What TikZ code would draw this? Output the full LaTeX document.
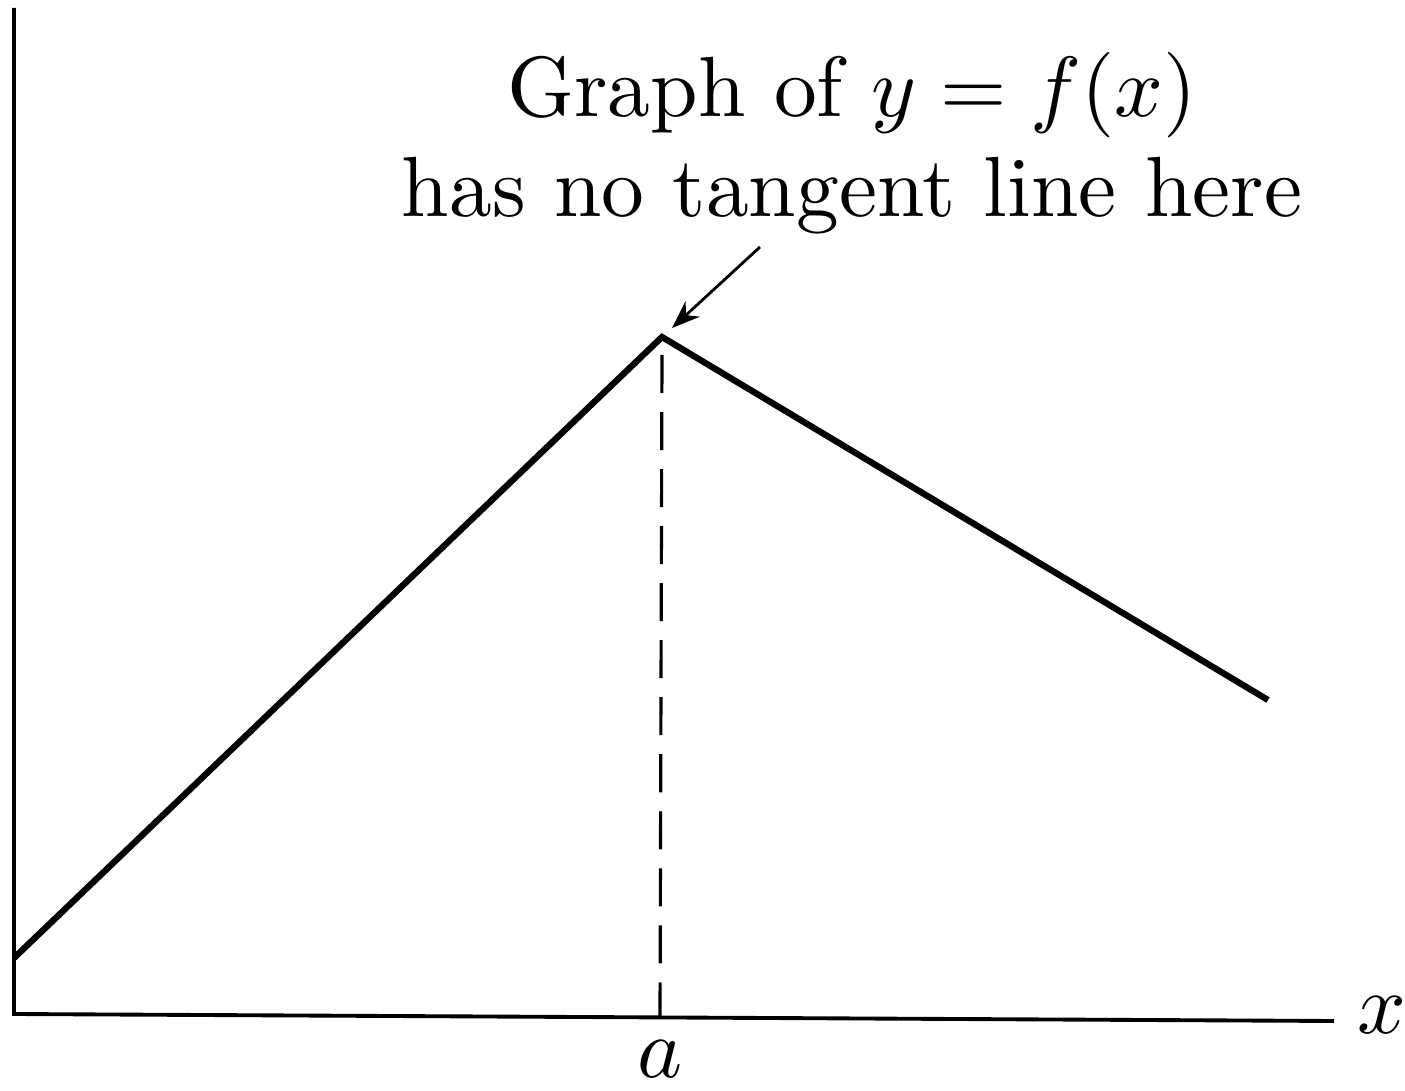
\documentclass[tikz,border=0pt]{standalone}
\usepackage{graphicx}
\usetikzlibrary{arrows.meta}
\newcommand{\bigtxt}[1]{\scalebox{2.43}{\fontsize{10}{12}\selectfont #1}}
\begin{document}
\begin{tikzpicture}[x=0.01cm,y=-0.01cm,
  axis/.style={line width=1.1pt},
  graphline/.style={line width=1.8pt, line join=miter},
  guide/.style={line width=0.9pt, dash pattern=on 0.38cm off 0.19cm},
  lbl/.style={inner sep=0pt},
  pointer/.style={line width=0.8pt, -{Stealth[length=8pt,width=6pt]}}]
\useasboundingbox (0,0) rectangle (1405,1091);
% axes
\coordinate (ytop) at (14,8);
\coordinate (O) at (14,1014);
\coordinate (xend) at (1334,1021);
\draw[axis] (ytop) -- (O) -- (xend);
% graph
\coordinate (g0) at (14,958);
\coordinate (peak) at (662,337);
\coordinate (g2) at (1268,700);
\draw[graphline] (g0) -- (peak) -- (g2);
% dashed guide
\coordinate (foot) at (660,1017);
\coordinate (dtop) at (662,355);
\draw[guide] (dtop) -- (foot);
% labels
\node[lbl, anchor=base] (xl) at (1382,1033) {\bigtxt{$x$}};
\node[lbl, anchor=base] (al) at (660,1077) {\bigtxt{$a$}};
\node[lbl, anchor=base] (t1) at (852,117) {\bigtxt{Graph of $y = f(x)$}};
\node[lbl, anchor=base] (t2) at (852,217) {\bigtxt{has no tangent line here}};
% pointer
\coordinate (ptail) at (760,247);
\coordinate (ptip) at (672,328);
\draw[pointer] (ptail) -- (ptip);
\end{tikzpicture}
\end{document}
